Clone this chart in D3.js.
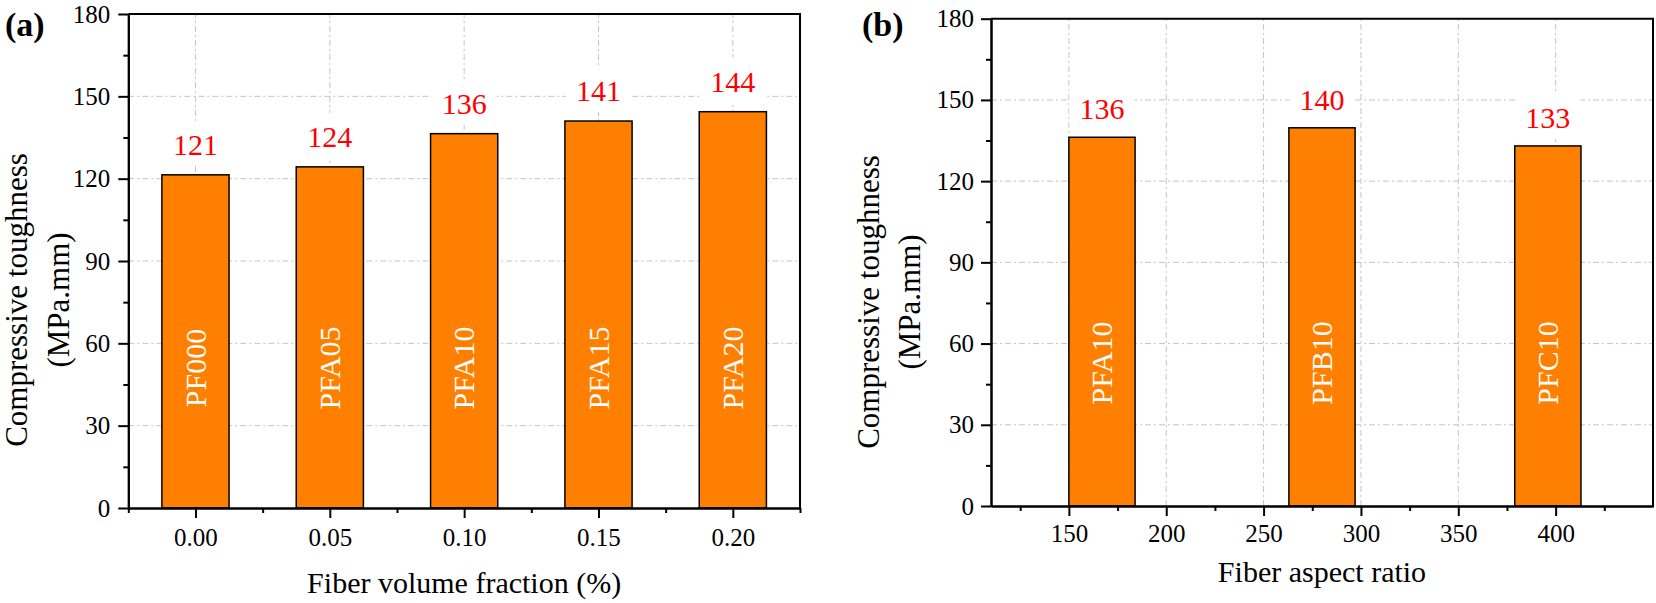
<!DOCTYPE html>
<html>
<head>
<meta charset="utf-8">
<script src="https://cdn.jsdelivr.net/npm/d3@7"></script>
<style>
  html, body { margin: 0; padding: 0; background: #ffffff; }
  svg { display: block; }
  text { font-family: "Liberation Serif", "Times New Roman", "DejaVu Serif", serif; }
</style>
</head>
<body>
<svg id="chart" width="1656" height="603"></svg>
<script>
// ---------- data ----------
const volumeFractions = [0.00, 0.05, 0.10, 0.15, 0.20];
const toughnessA = [121.4, 124.3, 136.4, 141.0, 144.4];
const specimenA = ["PF000", "PFA05", "PFA10", "PFA15", "PFA20"];
const valueLabelsA = ["121", "124", "136", "141", "144"];
const xTicksA = [0.00, 0.05, 0.10, 0.15, 0.20];
const xTickLabelsA = ["0.00", "0.05", "0.10", "0.15", "0.20"];
const xMinorA = [-0.025, 0.025, 0.075, 0.125, 0.175, 0.225];

const aspectRatios = [167, 280, 396];
const toughnessB = [136.2, 139.7, 133.0];
const specimenB = ["PFA10", "PFB10", "PFC10"];
const valueLabelsB = ["136", "140", "133"];
const xTicksB = [150, 200, 250, 300, 350, 400];
const xMinorB = [125, 175, 225, 275, 325, 375, 425];

const yTicks = [0, 30, 60, 90, 120, 150, 180];
const yMinor = [15, 45, 75, 105, 135, 165];

const svg = d3.select("#chart");

function panel(cfg) {
  const g = svg.append("g");
  const x = d3.scaleLinear().domain(cfg.xDomain).range([cfg.left, cfg.right]);
  const y = d3.scaleLinear().domain([0, 180]).range([cfg.bottom, cfg.top]);

  // grid
  const grid = g.append("g").attr("stroke", "#c4c4c4").attr("stroke-width", 1)
    .attr("stroke-dasharray", "6,3,2,3").attr("fill", "none");
  grid.selectAll(".vg").data(cfg.xTicks).join("line")
    .attr("x1", d => x(d)).attr("x2", d => x(d))
    .attr("y1", cfg.bottom).attr("y2", cfg.top);
  grid.selectAll(".hg").data(yTicks.filter(d => d > 0 && d < 180)).join("line")
    .attr("x1", cfg.left).attr("x2", cfg.right)
    .attr("y1", d => y(d)).attr("y2", d => y(d));

  // label backgrounds + value labels
  const lab = g.append("g");
  const texts = lab.selectAll("text.v").data(cfg.values).join("text")
    .attr("class", "v")
    .attr("x", (d, i) => x(cfg.xs[i]))
    .attr("y", d => y(d) - cfg.labelGap)
    .attr("text-anchor", "middle")
    .attr("font-size", 30)
    .attr("fill", "#ff0000")
    .text((d, i) => cfg.valueLabels[i]);
  texts.each(function () {
    const b = this.getBBox();
    lab.insert("rect", "text")
      .attr("x", b.x - 10).attr("y", b.y - 7)
      .attr("width", b.width + 20).attr("height", b.height + 12)
      .attr("fill", "#ffffff");
  });

  // bars
  const bw = x(cfg.barWidth) - x(0);
  g.append("g").selectAll("rect").data(cfg.values).join("rect")
    .attr("x", (d, i) => x(cfg.xs[i]) - bw / 2)
    .attr("y", d => y(d))
    .attr("width", bw)
    .attr("height", d => y(0) - y(d))
    .attr("fill", "#ff8000")
    .attr("stroke", "#000000")
    .attr("stroke-width", 1.5);

  // inner specimen labels
  g.append("g").selectAll("text").data(cfg.specimens).join("text")
    .attr("transform", (d, i) => `translate(${x(cfg.xs[i])},${cfg.innerY}) rotate(-90)`)
    .attr("text-anchor", "middle")
    .attr("dy", "0.34em")
    .attr("font-size", 30)
    .attr("fill", "#ffffff")
    .text(d => d);

  // axes
  const ax = g.append("g");
  const yAxis = d3.axisLeft(y).tickValues(yTicks).tickSize(10).tickSizeOuter(0).tickPadding(cfg.yPad);
  const yAxisMinor = d3.axisLeft(y).tickValues(yMinor).tickSize(5).tickSizeOuter(0).tickFormat("");
  const xAxis = d3.axisBottom(x).tickValues(cfg.xTicks).tickSize(10).tickSizeOuter(0)
    .tickFormat((d, i) => cfg.xTickLabels[i]).tickPadding(cfg.xPad);
  const xAxisMinor = d3.axisBottom(x).tickValues(cfg.xMinor).tickSize(5).tickSizeOuter(0).tickFormat("");

  ax.append("g").attr("transform", `translate(${cfg.left},0)`).call(yAxis);
  ax.append("g").attr("transform", `translate(${cfg.left},0)`).call(yAxisMinor);
  ax.append("g").attr("transform", `translate(0,${cfg.bottom})`).call(xAxis);
  ax.append("g").attr("transform", `translate(0,${cfg.bottom})`).call(xAxisMinor);
  ax.selectAll("path, line").attr("stroke", "#000").attr("stroke-width", 2);
  ax.selectAll("text").attr("font-size", 25).attr("font-family", "Liberation Serif, Times New Roman, serif").attr("fill", "#000");

  // frame top/right
  ax.append("line").attr("x1", cfg.left).attr("x2", cfg.right + 1).attr("y1", cfg.top).attr("y2", cfg.top)
    .attr("stroke", "#000").attr("stroke-width", 2);
  ax.append("line").attr("x1", cfg.right).attr("x2", cfg.right).attr("y1", cfg.top).attr("y2", cfg.bottom + 1)
    .attr("stroke", "#000").attr("stroke-width", 2);

  // axis titles
  g.append("text")
    .attr("x", (cfg.left + cfg.right) / 2).attr("y", cfg.xTitleY)
    .attr("text-anchor", "middle").attr("font-size", 30)
    .text(cfg.xTitle);
  const yt = g.append("text")
    .attr("transform", `translate(0,${cfg.yTitleCenter}) rotate(-90)`)
    .attr("text-anchor", "middle").attr("font-size", 31);
  yt.append("tspan").attr("x", 0).attr("y", cfg.yTitleX1).text("Compressive toughness");
  yt.append("tspan").attr("x", 0).attr("y", cfg.yTitleX2).text("(MPa.mm)");

  // panel tag
  g.append("text").attr("x", cfg.tagX).attr("y", 36)
    .attr("font-size", 34).attr("font-weight", "bold").text(cfg.tag);
}

panel({
  left: 128.3, right: 800, top: 14, bottom: 508,
  xDomain: [-0.025, 0.225], xs: volumeFractions, values: toughnessA,
  valueLabels: valueLabelsA, specimens: specimenA, barWidth: 0.025,
  xTicks: xTicksA, xTickLabels: xTickLabelsA, xMinor: xMinorA,
  labelGap: 20, innerY: 368, yPad: 8, xPad: 10,
  xTitle: "Fiber volume fraction (%)", xTitleY: 593,
  yTitleCenter: 300, yTitleX1: 27, yTitleX2: 69,
  tag: "(a)", tagX: 5
});

panel({
  left: 991, right: 1653, top: 18.7, bottom: 506,
  xDomain: [110, 450], xs: aspectRatios, values: toughnessB,
  valueLabels: valueLabelsB, specimens: specimenB, barWidth: 34,
  xTicks: xTicksB, xTickLabels: xTicksB.map(String), xMinor: xMinorB,
  labelGap: 18, innerY: 363, yPad: 7, xPad: 8,
  xTitle: "Fiber aspect ratio", xTitleY: 582,
  yTitleCenter: 302, yTitleX1: 879, yTitleX2: 920,
  tag: "(b)", tagX: 862
});
</script>
</body>
</html>
